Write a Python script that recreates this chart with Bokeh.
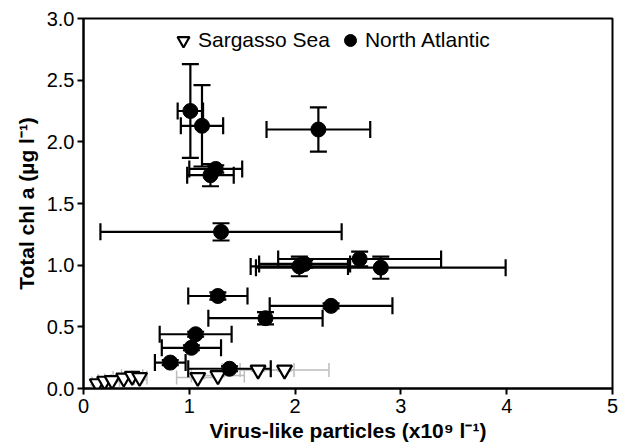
from bokeh.plotting import figure
from bokeh.models import (ColumnDataSource, Whisker, TeeHead, Range1d, FixedTicker,
                          Legend, LegendItem, NumeralTickFormatter)
from bokeh.embed import file_html
from bokeh.resources import INLINE

# Sargasso Sea stations: virus-like particles (x10^9 l^-1) vs total chl a (ug l^-1)
ss_vlp = [0.13, 0.20, 0.27, 0.38, 0.46, 0.53, 1.08, 1.27, 1.65, 1.90]
ss_vlp_err = [0.05, 0.06, 0.07, 0.10, 0.10, 0.07, 0.20, 0.25, 0.34, 0.42]
ss_chl = [0.04, 0.06, 0.065, 0.085, 0.10, 0.09, 0.09, 0.105, 0.15, 0.15]
ss_chl_err = [0.01, 0.01, 0.01, 0.02, 0.03, 0.02, 0.01, 0.01, 0.01, 0.01]

# North Atlantic stations
na_vlp = [1.01, 1.12, 1.25, 1.20, 1.30, 2.22, 2.04, 2.09, 2.61, 2.81,
          1.27, 2.34, 1.72, 1.06, 1.02, 0.82, 1.38]
na_vlp_err = [0.12, 0.20, 0.25, 0.22, 1.14, 0.49, 0.46, 0.43, 0.77, 1.18,
              0.28, 0.58, 0.54, 0.34, 0.28, 0.145, 0.39]
na_chl = [2.25, 2.13, 1.78, 1.73, 1.27, 2.10, 0.99, 1.01, 1.05, 0.98,
          0.75, 0.67, 0.57, 0.44, 0.33, 0.21, 0.16]
na_chl_err = [0.38, 0.33, 0.03, 0.09, 0.07, 0.18, 0.08, 0.03, 0.06, 0.09,
              0.03, 0.02, 0.05, 0.02, 0.02, 0.02, 0.02]

x_ticks = [0, 1, 2, 3, 4, 5]
y_ticks = [0.0, 0.5, 1.0, 1.5, 2.0, 2.5, 3.0]

FONT = "Liberation Sans"


def make_source(x, xe, y, ye):
    return ColumnDataSource(dict(
        x=x, y=y,
        xl=[a - b for a, b in zip(x, xe)], xu=[a + b for a, b in zip(x, xe)],
        yl=[a - b for a, b in zip(y, ye)], yu=[a + b for a, b in zip(y, ye)],
    ))


ss = make_source(ss_vlp, ss_vlp_err, ss_chl, ss_chl_err)
na = make_source(na_vlp, na_vlp_err, na_chl, na_chl_err)

p = figure(frame_width=529, frame_height=370,
           min_border_left=83, min_border_right=7, min_border_top=18, min_border_bottom=60,
           x_range=Range1d(0, 5), y_range=Range1d(0, 3),
           output_backend="svg", toolbar_location=None)

p.outline_line_color = "black"
p.outline_line_width = 2
p.xgrid.visible = False
p.ygrid.visible = False


def add_bars(src, color, width, cap):
    head = lambda: TeeHead(size=cap, line_color=color, line_width=width)
    p.add_layout(Whisker(source=src, base="y", lower="xl", upper="xu", dimension="width",
                         line_color=color, line_width=width, level="underlay",
                         lower_head=head(), upper_head=head()))
    p.add_layout(Whisker(source=src, base="x", lower="yl", upper="yu", dimension="height",
                         line_color=color, line_width=width, level="underlay",
                         lower_head=head(), upper_head=head()))


add_bars(ss, "#bdbdbd", 1.5, 14)
tri = p.scatter("x", "y", source=ss, marker="inverted_triangle", size=15,
                fill_color="white", line_color="black", line_width=2.2)

add_bars(na, "black", 2.2, 17)
dot = p.scatter("x", "y", source=na, marker="circle", size=15,
                fill_color="black", line_color="black")

for ax in (p.xaxis[0], p.yaxis[0]):
    ax.axis_line_width = 2
    ax.major_tick_line_width = 2
    ax.major_tick_in = 0
    ax.major_tick_out = 6
    ax.minor_tick_line_color = None
    ax.major_label_text_font = FONT
    ax.major_label_text_font_size = "20px"
    ax.major_label_text_color = "black"
    ax.axis_label_text_font = FONT
    ax.axis_label_text_font_size = "21px"
    ax.axis_label_text_font_style = "bold"
    ax.axis_label_text_color = "black"

p.xaxis.ticker = FixedTicker(ticks=x_ticks)
p.yaxis.ticker = FixedTicker(ticks=y_ticks)
p.yaxis.formatter = NumeralTickFormatter(format="0.0")
p.xaxis.major_label_standoff = 4
p.yaxis.major_label_standoff = 3
p.xaxis.axis_label = "Virus-like particles (x10\u2079 l\u207b\u00b9)"
p.yaxis.axis_label = "Total chl a (\u00b5g l\u207b\u00b9)"
p.xaxis.axis_label_standoff = 3
p.yaxis.axis_label_standoff = 6

legend = Legend(items=[LegendItem(label="Sargasso Sea", renderers=[tri]),
                       LegendItem(label="North Atlantic", renderers=[dot])],
                orientation="horizontal", location=(81, 329),
                label_text_font=FONT, label_text_font_size="21px", label_text_color="black",
                glyph_width=30, glyph_height=30, label_standoff=0, spacing=5,
                border_line_alpha=0, background_fill_alpha=0, margin=0, padding=4)
p.add_layout(legend)

open("out.html", "w").write(file_html(p, INLINE))
